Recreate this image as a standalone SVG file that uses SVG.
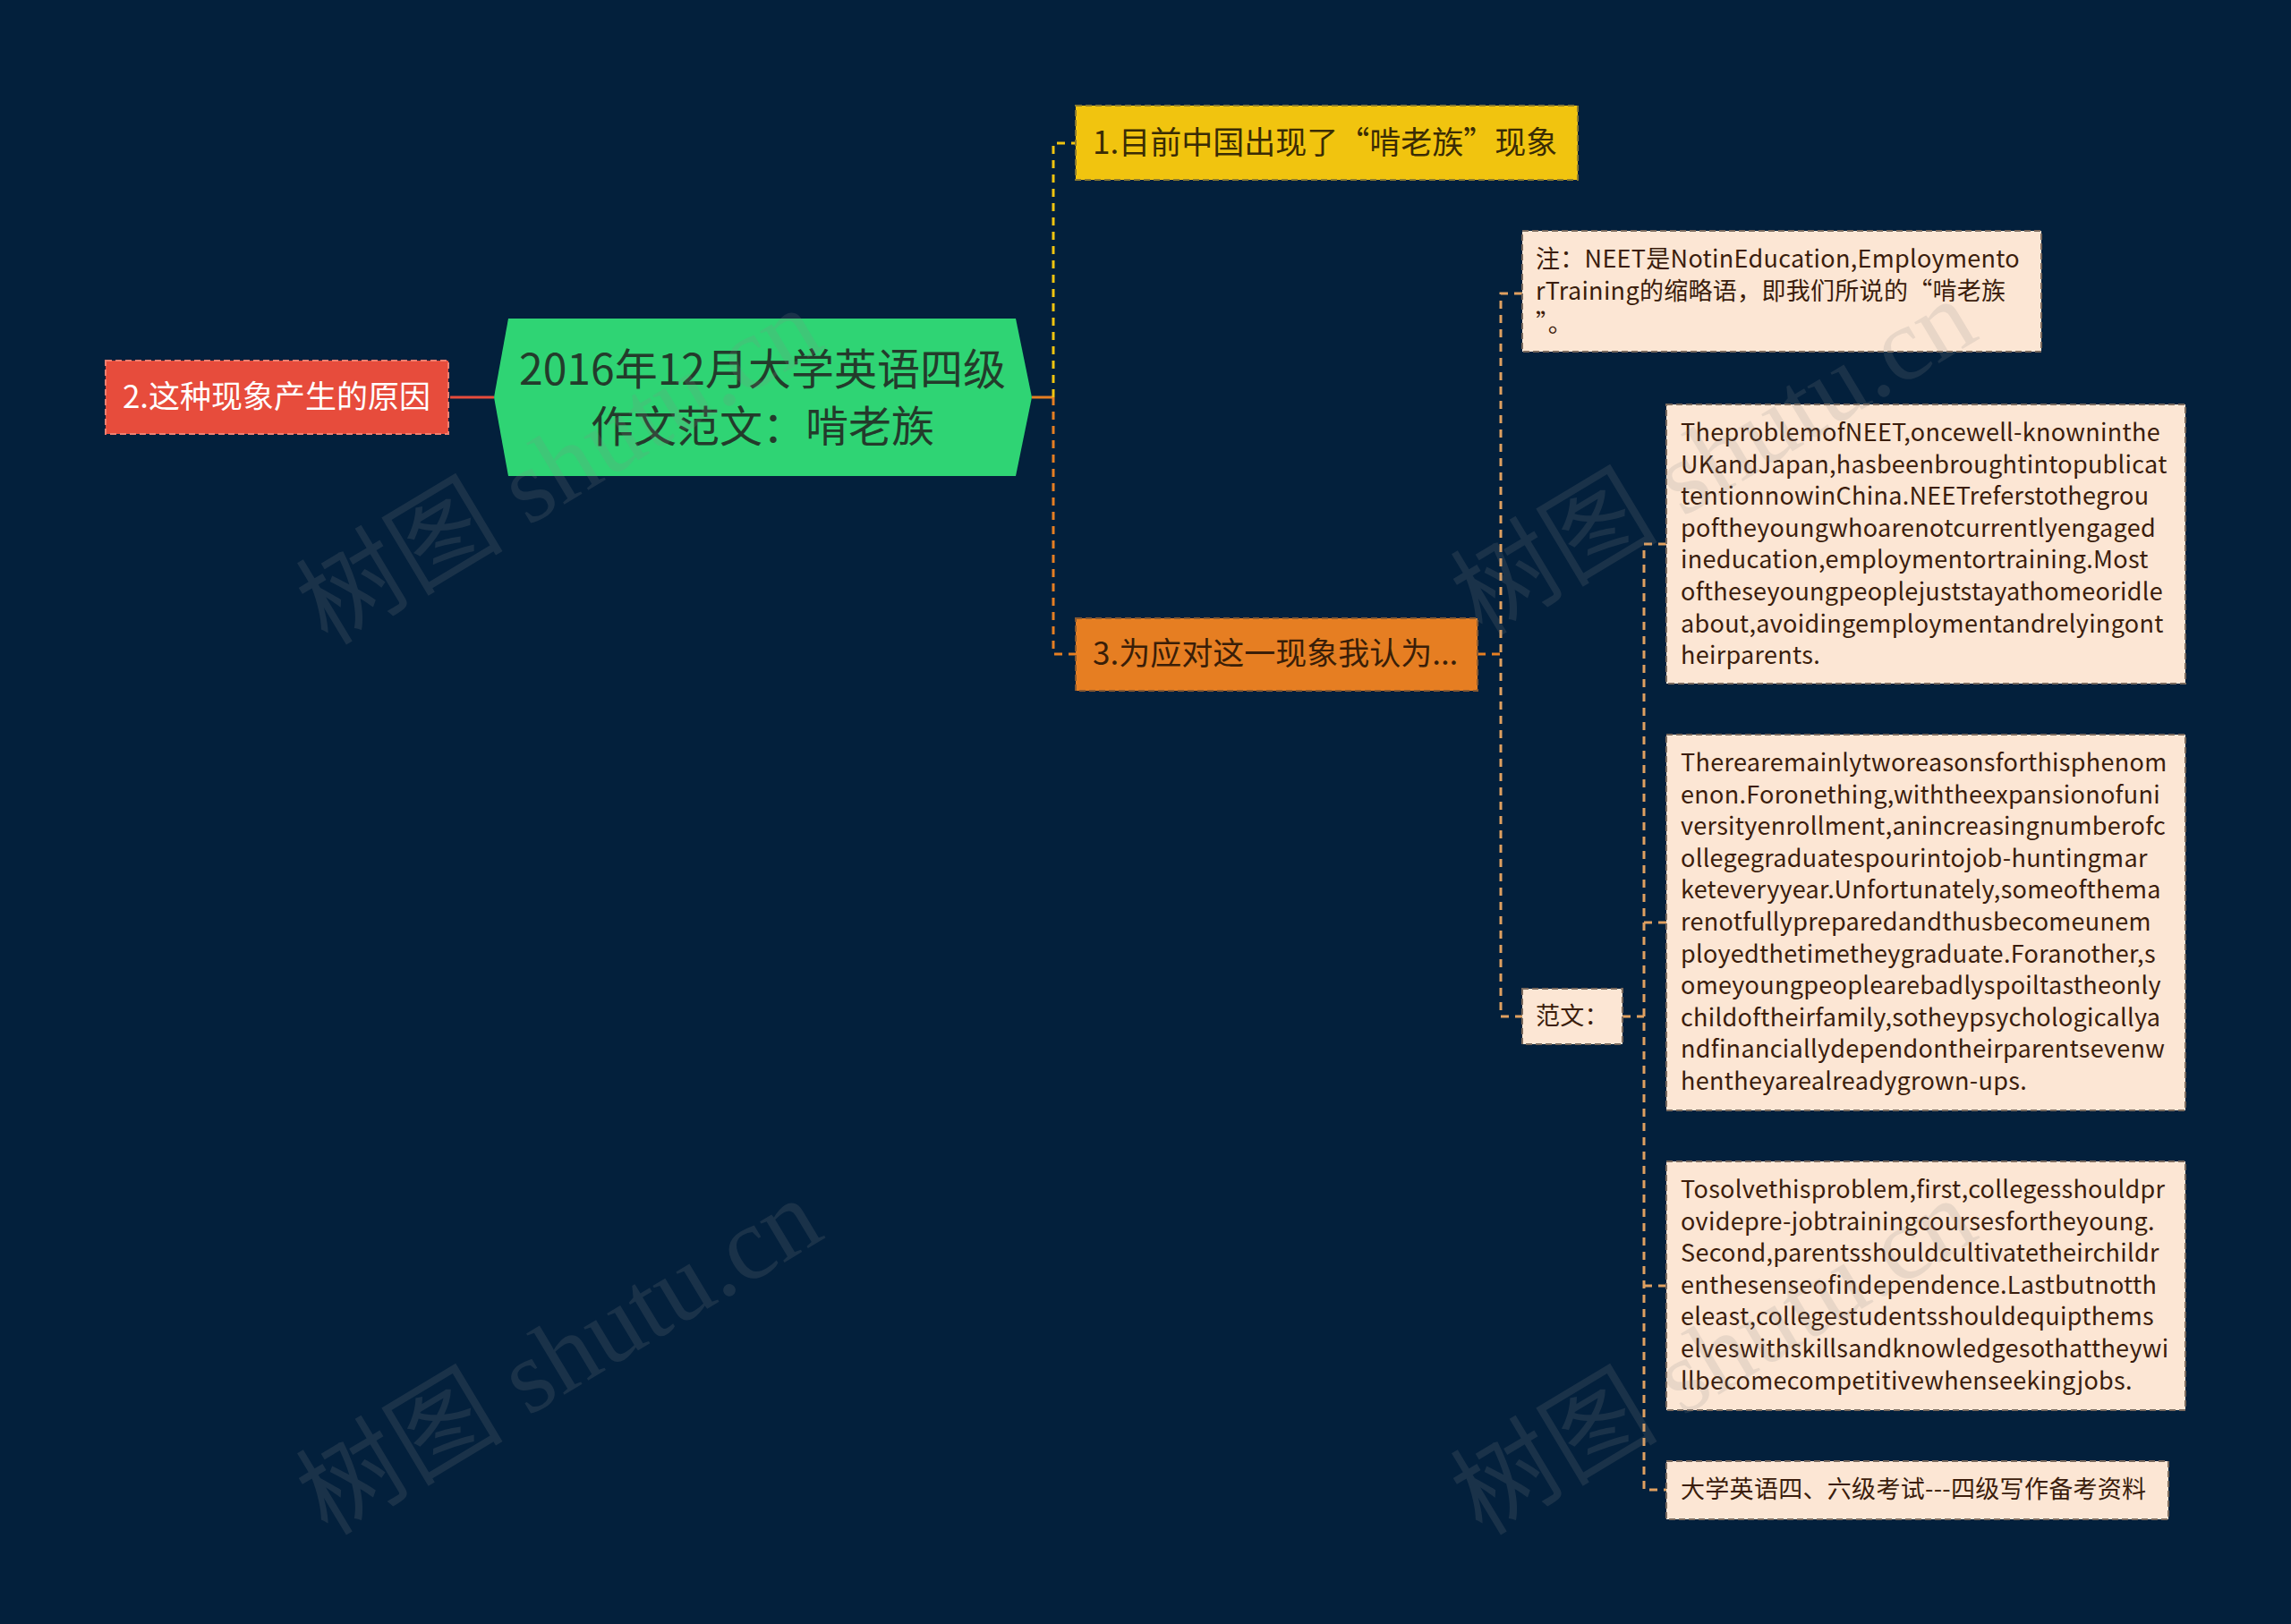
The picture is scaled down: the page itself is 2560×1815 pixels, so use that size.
<svg xmlns="http://www.w3.org/2000/svg" width="2560" height="1815" viewBox="0 0 2560 1815">
<style>
.bg{fill:#03203c}
.conn{fill:none;stroke-width:3}
.dash{stroke-dasharray:9 7}
.y{stroke:#f1c40f}
.o{stroke:#e67e22}
.t{stroke:#e0a060}
.box{stroke-width:2;stroke-dasharray:7 4}
.peach{fill:#fce6d4;stroke:#7a6a5e}
.ptext{font-family:"Noto Sans CJK SC","Noto Sans",sans-serif;font-size:27px;letter-spacing:0.3px;fill:#3b1d0c}
.ntext{font-family:"Noto Sans CJK SC","Noto Sans",sans-serif;font-size:35px}
.wm{font-family:"Liberation Serif","Noto Sans CJK SC",serif;font-size:116px;fill:#8a8a8a;opacity:0.17}
</style>
<rect class="bg" x="0" y="0" width="2560" height="1815"/>

<g id="connectors">
  <line class="conn" x1="503" y1="444" x2="552" y2="444" stroke="#e74c3c" stroke-width="4"/>
  <line class="conn o" x1="1153" y1="444" x2="1177" y2="444" stroke-width="4"/>
  <path class="conn dash y" d="M1177 444 V160 H1202"/>
  <path class="conn dash o" d="M1177 444 V731 H1202"/>
  <path class="conn dash o" d="M1651 731 H1677"/>
  <path class="conn dash t" d="M1701 328 H1677 V1136 H1701"/>
  <path class="conn dash t" d="M1813 1136 H1837"/>
  <path class="conn dash t" d="M1862 608 H1837 V1665 H1862"/>
  <path class="conn dash t" d="M1837 1031 H1862"/>
  <path class="conn dash t" d="M1837 1437 H1862"/>
</g>

<g id="root">
  <polygon points="552,444 568,356 1135,356 1153,444 1135,532 568,532" fill="#2fd474"/>
  <text x="852" y="430" text-anchor="middle" font-family="Noto Sans CJK SC, sans-serif" font-size="48" fill="#233b2b">2016年12月大学英语四级</text>
  <text x="852" y="494" text-anchor="middle" font-family="Noto Sans CJK SC, sans-serif" font-size="48" fill="#233b2b">作文范文：啃老族</text>
</g>

<g id="node-reason">
  <rect class="box" x="118" y="403" width="383" height="82" fill="#e74c3c" stroke="#f08070"/>
  <text class="ntext" x="309" y="456" text-anchor="middle" fill="#ffffff">2.这种现象产生的原因</text>
</g>

<g id="node-1">
  <rect class="box" x="1202" y="118" width="561" height="83" fill="#f1c40f" stroke="#8a7a30"/>
  <text class="ntext" x="1221" y="172" fill="#3a2c05">1.目前中国出现了“啃老族”现象</text>
</g>

<g id="node-3">
  <rect class="box" x="1202" y="691" width="449" height="81" fill="#e67e22" stroke="#8a5a30"/>
  <text class="ntext" x="1221" y="743" fill="#3a1e08">3.为应对这一现象我认为...</text>
</g>

<g id="node-note">
  <rect class="box peach" x="1701" y="258" width="580" height="135"/>
  <text class="ptext" x="1716" y="299">注：NEET是NotinEducation,Employmento</text>
  <text class="ptext" x="1716" y="335">rTraining的缩略语，即我们所说的“啃老族</text>
  <text class="ptext" x="1716" y="371">”。</text>
</g>

<g id="node-fanwen">
  <rect class="box peach" x="1701" y="1105" width="112" height="62"/>
  <text class="ptext" x="1716" y="1145">范文：</text>
</g>

<g id="node-p1">
  <rect class="box peach" x="1862" y="452" width="580" height="312"/>
  <text class="ptext" x="1878" y="493">TheproblemofNEET,oncewell-knowninthe</text>
  <text class="ptext" x="1878" y="528.6">UKandJapan,hasbeenbroughtintopublicat</text>
  <text class="ptext" x="1878" y="564.2">tentionnowinChina.NEETreferstothegrou</text>
  <text class="ptext" x="1878" y="599.8">poftheyoungwhoarenotcurrentlyengaged</text>
  <text class="ptext" x="1878" y="635.4">ineducation,employmentortraining.Most</text>
  <text class="ptext" x="1878" y="671">oftheseyoungpeoplejuststayathomeoridle</text>
  <text class="ptext" x="1878" y="706.6">about,avoidingemploymentandrelyingont</text>
  <text class="ptext" x="1878" y="742.2">heirparents.</text>
</g>

<g id="node-p2">
  <rect class="box peach" x="1862" y="821" width="580" height="420"/>
  <text class="ptext" x="1878" y="862">Therearemainlytworeasonsforthisphenom</text>
  <text class="ptext" x="1878" y="897.6">enon.Foronething,withtheexpansionofuni</text>
  <text class="ptext" x="1878" y="933.2">versityenrollment,anincreasingnumberofc</text>
  <text class="ptext" x="1878" y="968.8">ollegegraduatespourintojob-huntingmar</text>
  <text class="ptext" x="1878" y="1004.4">keteveryyear.Unfortunately,someofthema</text>
  <text class="ptext" x="1878" y="1040">renotfullypreparedandthusbecomeunem</text>
  <text class="ptext" x="1878" y="1075.6">ployedthetimetheygraduate.Foranother,s</text>
  <text class="ptext" x="1878" y="1111.2">omeyoungpeoplearebadlyspoiltastheonly</text>
  <text class="ptext" x="1878" y="1146.8">childoftheirfamily,sotheypsychologicallya</text>
  <text class="ptext" x="1878" y="1182.4">ndfinanciallydependontheirparentsevenw</text>
  <text class="ptext" x="1878" y="1218">hentheyarealreadygrown-ups.</text>
</g>

<g id="node-p3">
  <rect class="box peach" x="1862" y="1298" width="580" height="278"/>
  <text class="ptext" x="1878" y="1339">Tosolvethisproblem,first,collegesshouldpr</text>
  <text class="ptext" x="1878" y="1374.6">ovidepre-jobtrainingcoursesfortheyoung.</text>
  <text class="ptext" x="1878" y="1410.2">Second,parentsshouldcultivatetheirchildr</text>
  <text class="ptext" x="1878" y="1445.8">enthesenseofindependence.Lastbutnotth</text>
  <text class="ptext" x="1878" y="1481.4">eleast,collegestudentsshouldequipthems</text>
  <text class="ptext" x="1878" y="1517">elveswithskillsandknowledgesothattheywi</text>
  <text class="ptext" x="1878" y="1552.6">llbecomecompetitivewhenseekingjobs.</text>
</g>

<g id="node-p4">
  <rect class="box peach" x="1862" y="1633" width="561" height="65"/>
  <text class="ptext" x="1878" y="1674">大学英语四、六级考试---四级写作备考资料</text>
</g>

<g id="watermarks">
  <text class="wm" x="0" y="0" text-anchor="middle" transform="translate(645,555) rotate(-31)">树图 shutu.cn</text>
  <text class="wm" x="0" y="0" text-anchor="middle" transform="translate(1935,545) rotate(-31)">树图 shutu.cn</text>
  <text class="wm" x="0" y="0" text-anchor="middle" transform="translate(645,1550) rotate(-31)">树图 shutu.cn</text>
  <text class="wm" x="0" y="0" text-anchor="middle" transform="translate(1935,1550) rotate(-31)">树图 shutu.cn</text>
</g>
</svg>
